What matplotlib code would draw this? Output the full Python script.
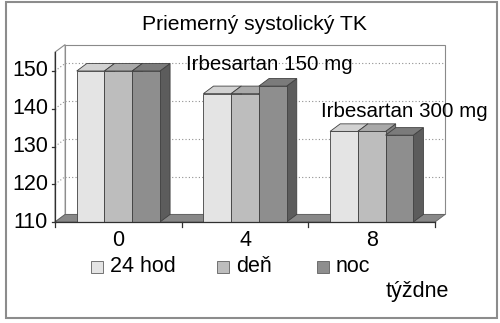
import matplotlib
matplotlib.use("Agg")
import matplotlib.pyplot as plt
from matplotlib.patches import Polygon, Rectangle

plt.rcParams['font.family'] = ['Liberation Sans', 'DejaVu Sans']

# ---- data ----
categories = ["0", "4", "8"]
series_names = ["24 hod", "deň", "noc"]
val_24hod = [150, 144, 134]
val_den = [150, 144, 134]
val_noc = [150, 146, 133]
series_values = [val_24hod, val_den, val_noc]
yticks = [110, 120, 130, 140, 150]
title = "Priemerný systolický TK"
annotations = ["Irbesartan 150 mg", "Irbesartan 300 mg"]
xlabel = "týždne"

# ---- style ----
face_cols = ["#e4e4e4", "#bdbdbd", "#8e8e8e"]
top_cols = ["#d2d2d2", "#a9a9a9", "#7b7b7b"]
side_cols = ["#9a9a9a", "#7d7d7d", "#5c5c5c"]
edge = "#404040"
ymin, ymax = 110, 155
dx, dy = 0.08, 2.0
bw = 0.219
fs = 15.5

W, H = 500, 323
fig = plt.figure(figsize=(W / 100, H / 100), dpi=100)
ax = fig.add_axes([0, 0, 1, 1])
pxu, pyu = 126.67, 3.775
ax.set_xlim(-55 / pxu, (W - 55) / pxu)
ax.set_ylim(110 - (H - 222) / pyu, 110 + 222 / pyu)
ax.axis("off")

n = len(categories)
# walls
ax.add_patch(Polygon([(dx, ymin + dy), (n + dx, ymin + dy), (n + dx, ymax + dy), (dx, ymax + dy)],
                     closed=True, facecolor="white", edgecolor="#8a8a8a", lw=0.8, zorder=1))
ax.add_patch(Polygon([(0, ymin), (dx, ymin + dy), (dx, ymax + dy), (0, ymax)],
                     closed=True, facecolor="white", edgecolor="#8a8a8a", lw=0.8, zorder=1))
ax.add_patch(Polygon([(0, ymin), (n, ymin), (n + dx, ymin + dy), (dx, ymin + dy)],
                     closed=True, facecolor="#888888", edgecolor="#606060", lw=0.6, zorder=1))
for t in yticks[1:]:
    ax.plot([dx, n + dx], [t + dy, t + dy], ls=(0, (1, 2)), color="#909090", lw=0.8, zorder=1.5)
    ax.plot([0, dx], [t, t + dy], ls=(0, (1, 2)), color="#909090", lw=0.8, zorder=1.5)

# axes lines & ticks
ax.plot([0, 0], [ymin, ymax], color="#303030", lw=0.9, zorder=20)
ax.plot([0, n], [ymin, ymin], color="#303030", lw=0.9, zorder=20)
for t in yticks:
    ax.plot([-0.025, 0], [t, t], color="#303030", lw=0.9, zorder=20)
    ax.text(-0.055, t, str(t), ha="right", va="center", fontsize=fs, color="black")
for i in range(n + 1):
    ax.plot([i, i], [ymin, ymin - 1.2], color="#303030", lw=0.9, zorder=20)
for i, c in enumerate(categories):
    ax.text(i + 0.5, ymin - 5, c, ha="center", va="center", fontsize=fs)

# bars (pseudo 3D)
group_w = bw * len(series_names)
z = 5
for s, vals in enumerate(series_values):
    x0s = [i + 0.5 - group_w / 2 + s * bw for i in range(n)]
    for x0, v in zip(x0s, vals):
        ax.add_patch(Polygon([(x0 + bw, ymin), (x0 + bw + dx, ymin + dy), (x0 + bw + dx, v + dy), (x0 + bw, v)],
                             closed=True, facecolor=side_cols[s], edgecolor=edge, lw=0.6, zorder=z + s * 3))
        ax.add_patch(Polygon([(x0, v), (x0 + bw, v), (x0 + bw + dx, v + dy), (x0 + dx, v + dy)],
                             closed=True, facecolor=top_cols[s], edgecolor=edge, lw=0.6, zorder=z + s * 3 + 1))
    ax.bar(x0s, [v - ymin for v in vals], width=bw, bottom=ymin, align="edge",
           color=face_cols[s], edgecolor=edge, lw=0.6, zorder=z + s * 3 + 2)

# texts
fig.text(254 / W, 1 - 30 / H, title, ha="center", va="baseline", fontsize=15.2)
fig.text(186 / W, 1 - 70 / H, annotations[0], ha="left", va="baseline", fontsize=14.8, zorder=30)
fig.text(321 / W, 1 - 117 / H, annotations[1], ha="left", va="baseline", fontsize=14.8, zorder=30)
fig.text(417 / W, 1 - 292 / H, xlabel, ha="center", va="center", fontsize=fs)

# legend
leg_x = [91, 217, 317]
for s, name in enumerate(series_names):
    fig.patches.append(Rectangle((leg_x[s] / W, 1 - 273 / H), 12 / W, 12 / H, transform=fig.transFigure,
                                 facecolor=face_cols[s], edgecolor="#606060", lw=0.6))
    fig.text((leg_x[s] + 19) / W, 1 - 267 / H, name, ha="left", va="center", fontsize=fs)

# outer border
fig.patches.append(Rectangle((6 / W, 5 / H), 491 / W, 316 / H, transform=fig.transFigure,
                             facecolor="none", edgecolor="#8c8c8c", lw=1.5))

fig.savefig("out.png", dpi=100)
